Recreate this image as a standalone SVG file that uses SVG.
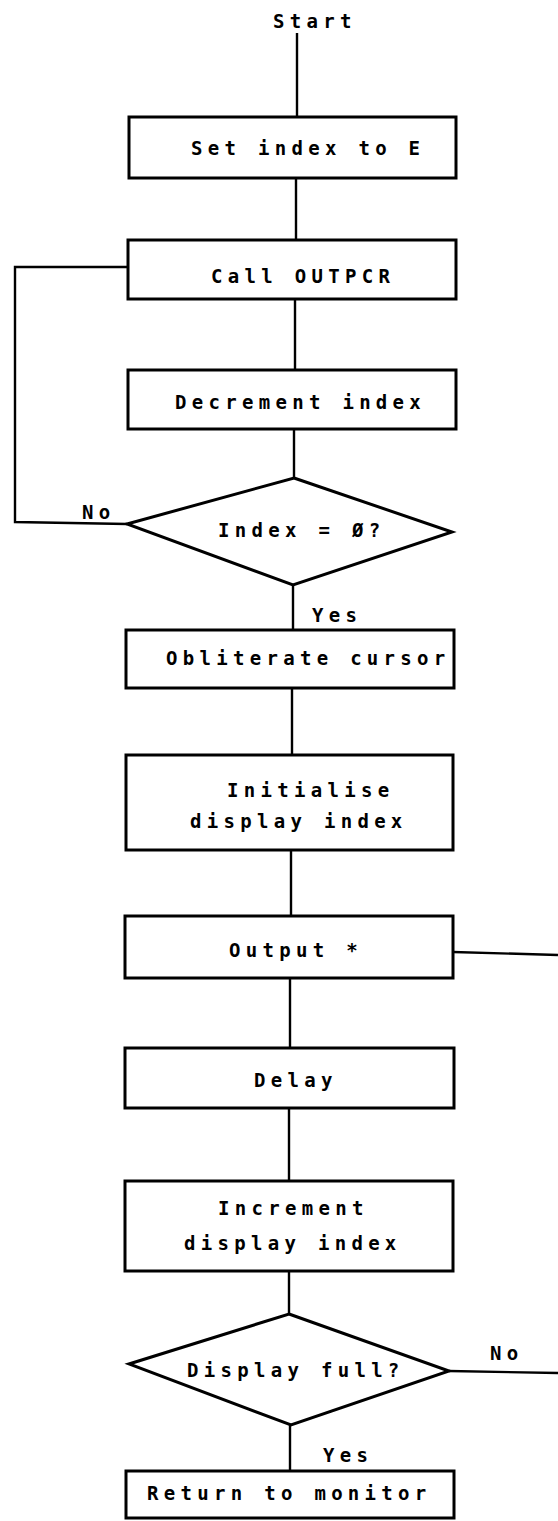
<svg xmlns="http://www.w3.org/2000/svg" width="558" height="1521" viewBox="0 0 558 1521">
<style>
.bg{fill:#ffffff}
.box{fill:#ffffff;stroke:#000000;stroke-width:3}
.ln{fill:none;stroke:#000000;stroke-width:2.4}
.t{font-family:"DejaVu Sans Mono","Liberation Mono",monospace;font-size:19px;font-weight:bold;letter-spacing:5.3px;fill:#000000}
</style>
<rect class="bg" x="0" y="0" width="558" height="1521"/>
<g id="connectors">
<line class="ln" x1="297" y1="33" x2="297" y2="117"/>
<line class="ln" x1="296" y1="178" x2="296" y2="240"/>
<line class="ln" x1="295" y1="299" x2="295" y2="370"/>
<line class="ln" x1="294" y1="429" x2="294" y2="478"/>
<polyline class="ln" points="127,524 15,522 15,267 128,267"/>
<line class="ln" x1="293" y1="585" x2="293" y2="630"/>
<line class="ln" x1="292" y1="688" x2="292" y2="755"/>
<line class="ln" x1="291" y1="850" x2="291" y2="916"/>
<line class="ln" x1="453" y1="952" x2="558" y2="955"/>
<line class="ln" x1="290" y1="978" x2="290" y2="1048"/>
<line class="ln" x1="289" y1="1108" x2="289" y2="1181"/>
<line class="ln" x1="289" y1="1271" x2="289" y2="1314"/>
<line class="ln" x1="449" y1="1371" x2="558" y2="1373"/>
<line class="ln" x1="290" y1="1425" x2="290" y2="1471"/>
<text class="t" x="82" y="519">No</text>
<text class="t" x="312" y="622">Yes</text>
<text class="t" x="490" y="1360">No</text>
<text class="t" x="323" y="1462">Yes</text>
</g>
<g id="start">
<text class="t" x="273" y="28">Start</text>
</g>
<g id="set-index">
<rect class="box" x="129" y="117" width="327" height="61"/>
<text class="t" x="191" y="155">Set index to E</text>
</g>
<g id="call-outpcr">
<rect class="box" x="128" y="240" width="328" height="59"/>
<text class="t" x="211" y="283">Call OUTPCR</text>
</g>
<g id="decrement">
<rect class="box" x="128" y="370" width="328" height="59"/>
<text class="t" x="175" y="409">Decrement index</text>
</g>
<g id="index-zero">
<polygon class="box" points="294,478 452,532 293,585 127,524"/>
<text class="t" x="218" y="537">Index = Ø?</text>
</g>
<g id="obliterate">
<rect class="box" x="126" y="630" width="328" height="58"/>
<text class="t" x="166" y="665">Obliterate cursor</text>
</g>
<g id="initialise">
<rect class="box" x="126" y="755" width="327" height="95"/>
<text class="t" x="227" y="797">Initialise</text>
<text class="t" x="190" y="828">display index</text>
</g>
<g id="output">
<rect class="box" x="125" y="916" width="328" height="62"/>
<text class="t" x="229" y="957">Output *</text>
</g>
<g id="delay">
<rect class="box" x="125" y="1048" width="329" height="60"/>
<text class="t" x="254" y="1087">Delay</text>
</g>
<g id="increment">
<rect class="box" x="125" y="1181" width="328" height="90"/>
<text class="t" x="218" y="1215">Increment</text>
<text class="t" x="184" y="1250">display index</text>
</g>
<g id="display-full">
<polygon class="box" points="289,1314 449,1371 291,1425 129,1364"/>
<text class="t" x="187" y="1377">Display full?</text>
</g>
<g id="return">
<rect class="box" x="126" y="1471" width="328" height="47"/>
<text class="t" x="147" y="1500">Return to monitor</text>
</g>
</svg>
